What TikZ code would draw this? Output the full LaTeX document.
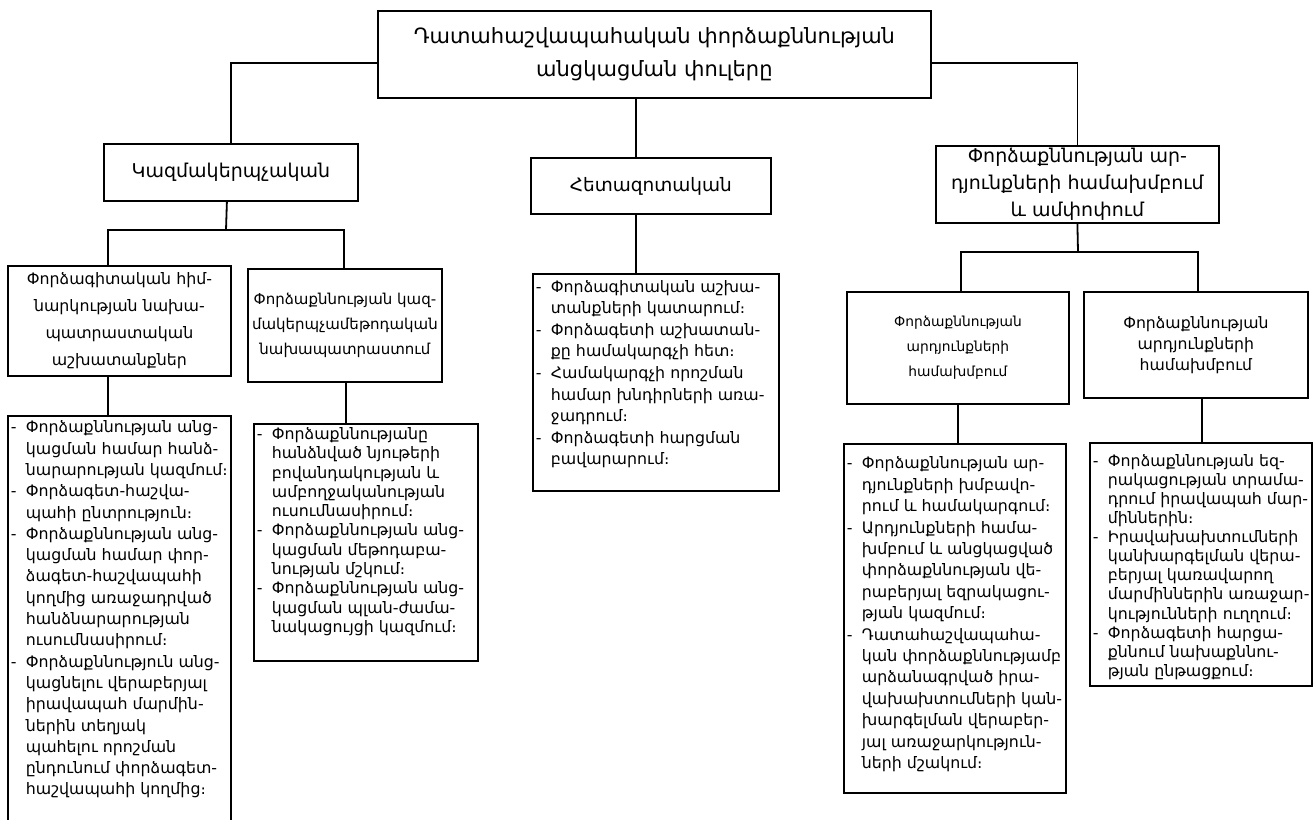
\documentclass[tikz,border=0pt]{standalone}
\usepackage{fontspec}
\setmainfont{DejaVu Sans}
\usetikzlibrary{positioning, calc}
% list of works: width, height, top gap, rows
\newcommand{\worklist}[4]{\begin{minipage}[t][#2][t]{#1}\vspace*{#3}%
\begin{tabular}{@{}p{15pt}@{}l@{}}#4\end{tabular}\end{minipage}}

\begin{document}
\begin{tikzpicture}[x=1pt, y=-1pt,
  box/.style={draw, line width=1.8pt, inner sep=0pt, align=center, anchor=north west},
  lbox/.style={draw, line width=1.8pt, inner xsep=3pt, inner ysep=0pt, anchor=north west},
  link/.style={line width=1.8pt}]
\useasboundingbox (0,0) rectangle (1313,819);

% main stage and the three stages
\node[box, minimum width=553pt, minimum height=87pt, font=\fontsize{21}{33}\selectfont] (top) at (377,10) {Դատահաշվապահական փորձաքննության\\անցկացման փուլերը};
\node[box, minimum width=254pt, minimum height=57pt, font=\fontsize{19}{26}\selectfont] (org) at (103,143) {Կազմակերպչական};
\node[box, minimum width=240pt, minimum height=56pt, font=\fontsize{18.5}{26}\selectfont] (res) at (530,157) {Հետազոտական};
\node[box, minimum width=283pt, minimum height=77pt, font=\fontsize{19}{27}\selectfont] (sum) at (935,145) {Փորձաքննության ար-\\դյունքների համախմբում\\և ամփոփում};

% sub stages
\node[box, minimum width=223pt, minimum height=110pt, font=\fontsize{15.8}{27}\selectfont] (prep) at (7,265) {Փորձագիտական հիմ-\\նարկության նախա-\\պատրաստական\\աշխատանքներ};
\node[box, minimum width=194pt, minimum height=113pt, font=\fontsize{15}{25}\selectfont] (meth) at (247,268) {Փորձաքննության կազ-\\մակերպչամեթոդական\\նախապատրաստում};
\node[box, minimum width=222pt, minimum height=112pt, font=\fontsize{13.8}{25}\selectfont] (grpA) at (846,291) {Փորձաքննության\\արդյունքների\\համախմբում};
\node[box, minimum width=224pt, minimum height=106pt, font=\fontsize{15.7}{21}\selectfont] (grpB) at (1083,291) {Փորձաքննության\\արդյունքների\\համախմբում};

% lists of works
\node[lbox, font=\fontsize{15.8}{21.3}\selectfont] (prepL) at (7,415) {\worklist{217pt}{420pt}{2pt}{%
- & Փորձաքննության անց-\\ & կացման համար հանձ-\\ & նարարության կազմում։\\
- & Փորձագետ-հաշվա-\\ & պահի ընտրություն։\\
- & Փորձաքննության անց-\\ & կացման համար փոր-\\ & ձագետ-հաշվապահի\\ & կողմից առաջադրված\\ & հանձնարարության\\ & ուսումնասիրում։\\
- & Փորձաքննություն անց-\\ & կացնելու վերաբերյալ\\ & իրավապահ մարմին-\\ & ներին տեղյակ\\ & պահելու որոշման\\ & ընդունում փորձագետ-\\ & հաշվապահի կողմից։}};
\node[lbox, font=\fontsize{15.8}{19.3}\selectfont] (methL) at (253,423) {\worklist{218pt}{237pt}{2pt}{%
- & Փորձաքննությանը\\ & հանձնված նյութերի\\ & բովանդակության և\\ & ամբողջականության\\ & ուսումնասիրում։\\
- & Փորձաքննության անց-\\ & կացման մեթոդաբա-\\ & նության մշկում։\\
- & Փորձաքննության անց-\\ & կացման պլան-ժամա-\\ & նակացույցի կազմում։}};
\node[lbox, font=\fontsize{15.8}{21.6}\selectfont] (resL) at (532,273) {\worklist{240pt}{217pt}{3pt}{%
- & Փորձագիտական աշխա-\\ & տանքների կատարում։\\
- & Փորձագետի աշխատան-\\ & քը համակարգչի հետ։\\
- & Համակարգչի որոշման\\ & համար խնդիրների առա-\\ & ջադրում։\\
- & Փորձագետի հարցման\\ & բավարարում։}};
\node[lbox, font=\fontsize{15.8}{21.4}\selectfont] (grpAL) at (843,443) {\worklist{216pt}{349pt}{10pt}{%
- & Փորձաքննության ար-\\ & դյունքների խմբավո-\\ & րում և համակարգում։\\
- & Արդյունքների համա-\\ & խմբում և անցկացված\\ & փորձաքննության վե-\\ & րաբերյալ եզրակացու-\\ & թյան կազմում։\\
- & Դատահաշվապահա-\\ & կան փորձաքննությամբ\\ & արձանագրված իրա-\\ & վախախտումների կան-\\ & խարգելման վերաբեր-\\ & յալ առաջարկություն-\\ & ների մշակում։}};
\node[lbox, font=\fontsize{15.8}{19.1}\selectfont] (grpBL) at (1089,442) {\worklist{216pt}{243pt}{10pt}{%
- & Փորձաքննության եզ-\\ & րակացության տրամա-\\ & դրում իրավապահ մար-\\ & միններին։\\
- & Իրավախախտումների\\ & կանխարգելման վերա-\\ & բերյալ կառավարող\\ & մարմիններին առաջար-\\ & կությունների ուղղում։\\
- & Փորձագետի հարցա-\\ & քննում նախաքննու-\\ & թյան ընթացքում։}};

% connectors
\coordinate (orgfork) at (226,230);
\coordinate (sumfork) at (1078,252);
\draw[link] ([yshift=-8.5pt]top.west) -| (org.north);
\draw[link] ([yshift=-8.5pt]top.east) -| (sum.north);
\draw[link] ([xshift=-15pt]res.north |- top.south) -- ([xshift=-15pt]res.north);
\draw[link] ([xshift=-4pt]org.south) -- (orgfork);
\draw[link] ([xshift=-11.5pt]prep.north) |- (orgfork) -| ([xshift=-1pt]meth.north);
\draw[link] (sum.south) -- (sumfork);
\draw[link] ([xshift=3pt]grpA.north) |- (sumfork) -| ([xshift=2pt]grpB.north);
\draw[link] ([xshift=-11.5pt]prep.south) -- ([xshift=-11.5pt]prep.south |- prepL.north);
\draw[link] ([xshift=1pt]meth.south) -- ([xshift=1pt]meth.south |- methL.north);
\draw[link] ([xshift=-15pt]res.south) -- ([xshift=-15pt]res.south |- resL.north);
\draw[link] (grpA.south) -- (grpA.south |- grpAL.north);
\draw[link] ([xshift=6pt]grpB.south) -- ([xshift=6pt]grpB.south |- grpBL.north);
\end{tikzpicture}
\end{document}
